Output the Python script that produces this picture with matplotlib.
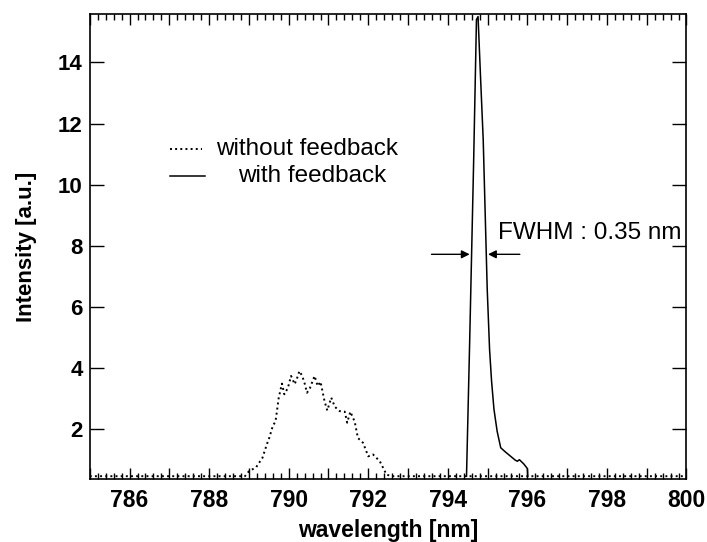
import numpy as np
import matplotlib as mpl
mpl.use('Agg')
import matplotlib.pyplot as plt
from matplotlib.ticker import MultipleLocator, FuncFormatter

mpl.rcParams['font.family'] = 'Liberation Sans'

# spectrum without feedback (dotted)
wl_nofb = [785.0, 788.9, 789.0, 789.18, 789.34, 789.45, 789.51, 789.6, 789.67,
           789.75, 789.83, 789.89, 789.98, 790.06, 790.15, 790.22, 790.27,
           790.34, 790.40, 790.46, 790.53, 790.65, 790.73, 790.80, 790.90,
           790.97, 791.07, 791.16, 791.28, 791.41, 791.47, 791.55, 791.66,
           791.74, 791.87, 792.0, 792.12, 792.29, 792.46, 792.6, 800.0]
int_nofb = [0.46, 0.46, 0.62, 0.75, 1.06, 1.5, 1.71, 2.1, 2.26,
            3.03, 3.49, 3.14, 3.35, 3.74, 3.47, 3.7, 3.90,
            3.74, 3.5, 3.19, 3.33, 3.74, 3.41, 3.55, 2.92,
            2.61, 3.03, 2.73, 2.59, 2.57, 2.21, 2.57, 2.24,
            1.71, 1.55, 1.11, 1.17, 0.95, 0.51, 0.46, 0.46]

# spectrum with feedback (solid)
wl_fb = [794.47, 794.55, 794.65, 794.72, 794.76, 794.82, 794.89, 794.99,
         795.05, 795.10, 795.16, 795.24, 795.33, 795.45, 795.58, 795.70,
         795.75, 795.80, 795.91, 796.0, 796.01]
int_fb = [0.46, 4.9, 10.8, 15.4, 15.5, 13.6, 11.46, 6.6,
          4.6, 3.57, 2.65, 1.93, 1.39, 1.25, 1.11, 0.98,
          0.95, 1.0, 0.86, 0.71, 0.46]

fwhm_y = 7.72
fwhm_left, fwhm_right = 794.55, 795.01

fig = plt.figure(figsize=(7.07, 5.42), dpi=100)
ax = fig.add_axes([0.127, 0.116, 0.844, 0.858])

ax.plot(wl_nofb, int_nofb, color='k', ls=':', lw=1.4)
ax.plot(wl_fb, int_fb, color='k', ls='-', lw=1.1)

ax.set_xlim(785, 800)
ax.set_ylim(0.364, 15.58)

ax.xaxis.set_major_locator(MultipleLocator(1))
ax.xaxis.set_minor_locator(MultipleLocator(0.2))
ax.xaxis.set_major_formatter(FuncFormatter(
    lambda x, pos: '{:d}'.format(int(round(x))) if int(round(x)) % 2 == 0 else ''))
ax.set_yticks(np.arange(2, 15, 2))

ax.tick_params(axis='x', which='major', direction='in', top=True, length=8,
               width=1, pad=7, labelsize=16.5)
ax.tick_params(axis='x', which='minor', direction='in', top=True, length=4, width=1)
ax.tick_params(axis='y', which='major', direction='in', right=True, length=10,
               width=1, pad=5, labelsize=16)
for lab in ax.get_xticklabels() + ax.get_yticklabels():
    lab.set_fontweight('bold')
for s in ax.spines.values():
    s.set_linewidth(1.2)

ax.set_xlabel('wavelength [nm]', fontsize=16.5, fontweight='bold', labelpad=5)
ax.set_ylabel('Intensity [a.u.]', fontsize=16, fontweight='bold', labelpad=15)

# legend drawn by hand
ax.plot([0.134, 0.188], [0.71, 0.71], transform=ax.transAxes, color='k', ls=':', lw=1.4)
ax.plot([0.134, 0.193], [0.651, 0.651], transform=ax.transAxes, color='k', ls='-', lw=1.1)
ax.text(0.212, 0.71, 'without feedback', transform=ax.transAxes, fontsize=17.5,
        va='center', ha='left')
ax.text(0.248, 0.651, 'with feedback', transform=ax.transAxes, fontsize=17.5,
        va='center', ha='left')

# FWHM arrows
ax.annotate('', xy=(fwhm_left, fwhm_y), xytext=(793.59, fwhm_y),
            arrowprops=dict(arrowstyle='-|>', color='k', lw=1, mutation_scale=12,
                            shrinkA=0, shrinkB=0))
ax.annotate('', xy=(fwhm_right, fwhm_y), xytext=(795.81, fwhm_y),
            arrowprops=dict(arrowstyle='-|>', color='k', lw=1, mutation_scale=12,
                            shrinkA=0, shrinkB=0))
ax.text(795.26, 8.41, 'FWHM : 0.35 nm', fontsize=17.5, va='center', ha='left')

plt.savefig('out.png', dpi=100)
